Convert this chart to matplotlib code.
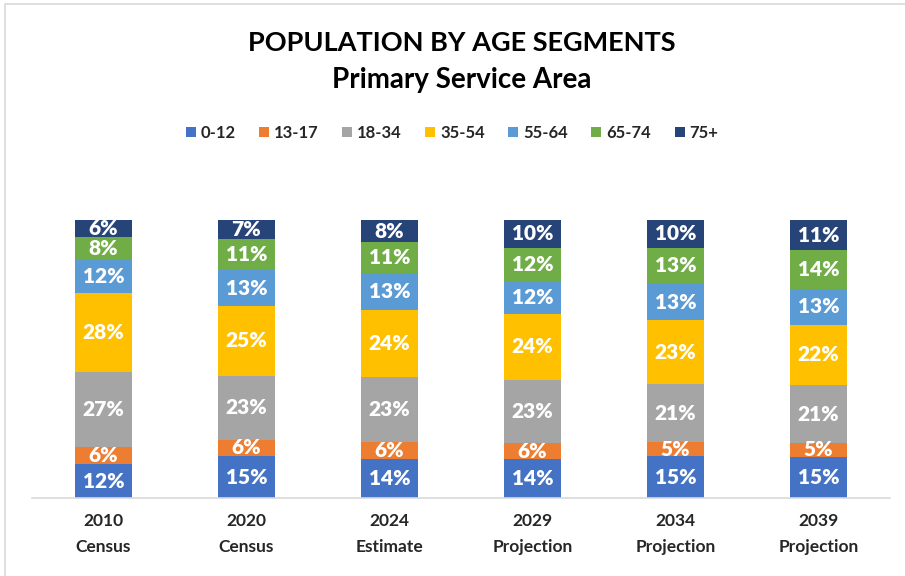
import matplotlib
matplotlib.use("Agg")
import matplotlib.pyplot as plt
import numpy as np
from matplotlib.patches import Rectangle

categories = ["2010\nCensus", "2020\nCensus", "2024\nEstimate", "2029\nProjection", "2034\nProjection", "2039\nProjection"]
segments = ["0-12", "13-17", "18-34", "35-54", "55-64", "65-74", "75+"]
v_0_12  = [12, 15, 14, 14, 15, 15]
v_13_17 = [6, 6, 6, 6, 5, 5]
v_18_34 = [27, 23, 23, 23, 21, 21]
v_35_54 = [28, 25, 24, 24, 23, 22]
v_55_64 = [12, 13, 13, 12, 13, 13]
v_65_74 = [8, 11, 11, 12, 13, 14]
v_75    = [6, 7, 8, 10, 10, 11]
colors = ["#4472C4", "#ED7D31", "#A5A5A5", "#FFC000", "#5B9BD5", "#70AD47", "#264478"]

series = [v_0_12, v_13_17, v_18_34, v_35_54, v_55_64, v_65_74, v_75]
data = np.array(series, dtype=float)
totals = data.sum(axis=0)
shares = data / totals * 100  # 100% stacked

FONT = "Lato"
fig = plt.figure(figsize=(9.05, 5.76), dpi=100)
fig.patches.append(Rectangle((5/905, -0.01), 2.0, (576-4)/576 + 0.01, transform=fig.transFigure,
                             fill=False, edgecolor="#d9d9d9", linewidth=1.2))
ax = fig.add_axes([32/905, (576-498)/576, 858/905, 278/576])
x = np.arange(len(categories))
bottom = np.zeros(len(categories))
for i, (name, col) in enumerate(zip(segments, colors)):
    ax.bar(x, shares[i], 0.4, bottom=bottom, color=col, label=name, linewidth=0)
    for xi, b, h, v in zip(x, bottom, shares[i], data[i]):
        ax.text(xi, b + h/2, f"{int(v)}%", ha="center", va="center", color="white",
                fontsize=15, fontweight="heavy", family=FONT)
    bottom += shares[i]

ax.set_xlim(-0.5, len(categories) - 0.5)
ax.set_ylim(0, 100)
ax.set_yticks([])
ax.set_xticks(x)
ax.set_xticklabels(categories, fontsize=12.5, fontweight="bold", family=FONT, color="#262626", linespacing=1.75)
ax.tick_params(axis="x", length=0, pad=11)
for s in ["top", "right", "left"]:
    ax.spines[s].set_visible(False)
ax.spines["bottom"].set_color("#d9d9d9")
ax.spines["bottom"].set_linewidth(1.2)

fig.text(462/905, 1 - 43/576, "POPULATION BY AGE SEGMENTS", ha="center", va="center",
         fontsize=19.5, fontweight="bold", family=FONT, color="black")
fig.text(462/905, 1 - 80/576, "Primary Service Area", ha="center", va="center",
         fontsize=20, fontweight="bold", family=FONT, color="black")

leg = fig.legend(loc="center", bbox_to_anchor=(452/905, 1 - 133/576), ncol=7, frameon=False,
                 prop={"family": FONT, "weight": "bold", "size": 12}, handlelength=0.6, handleheight=0.6,
                 handletextpad=0.3, columnspacing=1.4)
for t in leg.get_texts():
    t.set_color("#262626")

fig.savefig("out.png", dpi=100)
